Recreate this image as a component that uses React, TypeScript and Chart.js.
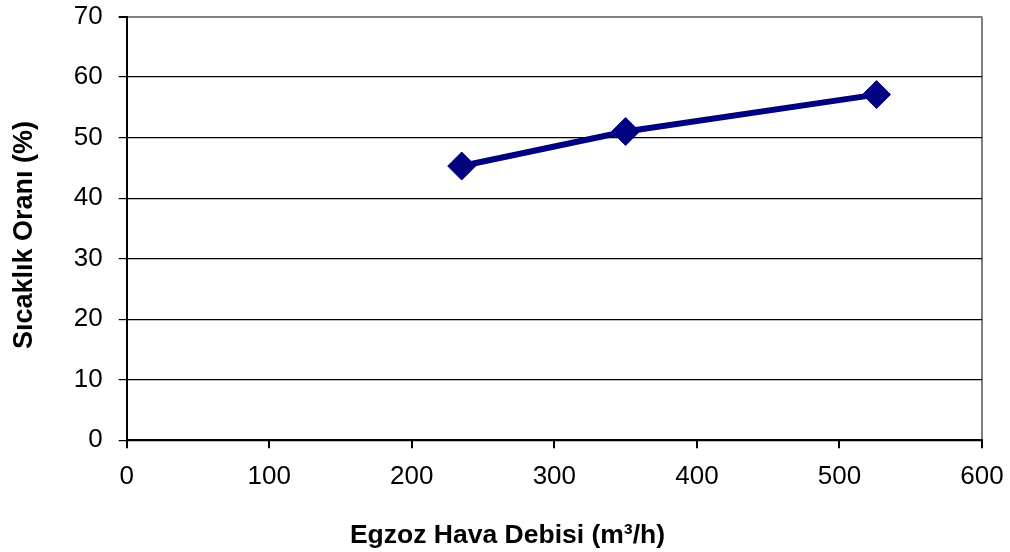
import React, { useEffect, useRef } from "react";
import { Chart, registerables } from "chart.js";

Chart.register(...registerables);

const airFlow = [235, 350, 526];
const ratio = [45.3, 51.0, 57.1];
const xTitle = "Egzoz Hava Debisi (m³/h)";
const yTitle = "Sıcaklık Oranı (%)";

const FONT = "Liberation Sans, Arial, sans-serif";

const titlePlugin = {
  id: "axisTitles",
  afterDraw(chart: any) {
    const c = chart.ctx;
    c.save();
    c.fillStyle = "#000";
    c.font = `bold 26.5px ${FONT}`;
    c.textAlign = "center";
    c.textBaseline = "alphabetic";
    c.fillText(xTitle, 507.5, 543);
    c.translate(32, 235);
    c.rotate(-Math.PI / 2);
    c.font = `bold 27px ${FONT}`;
    c.fillText(yTitle, 0, 0);
    c.restore();
  },
};

export default function App() {
  const ref = useRef<HTMLCanvasElement>(null);
  useEffect(() => {
    document.body.style.margin = "0";
    const ctx = ref.current!;
    const chart = new Chart(ctx, {
      type: "line",
      data: {
        datasets: [
          {
            data: airFlow.map((x, i) => ({ x, y: ratio[i] })),
            borderColor: "#000080",
            backgroundColor: "#000080",
            borderWidth: 6,
            pointStyle: "rectRot",
            pointRadius: 14,
            pointBorderWidth: 1,
            pointBorderColor: "#000080",
            pointBackgroundColor: "#000080",
            tension: 0,
          },
        ],
      },
      plugins: [titlePlugin],
      options: {
        animation: false,
        responsive: false,
        layout: { padding: { top: 16.5, right: 28, left: 0, bottom: 0 } },
        plugins: { legend: { display: false }, tooltip: { enabled: false } },
        scales: {
          x: {
            type: "linear",
            min: 0,
            max: 600,
            afterFit: (s: any) => {
              s.height = 552 - 16.5 - 423.8;
              s.paddingLeft = 0;
              s.paddingRight = 0;
            },
            ticks: {
              stepSize: 100,
              color: "#000",
              padding: 13,
              font: { family: FONT, size: 26 },
            },
            grid: {
              drawOnChartArea: true,
              color: (c: any) => (c.tick && c.tick.value === 600 ? "#808080" : "rgba(0,0,0,0)"),
              tickColor: "#000",
              tickLength: 8,
              lineWidth: 2,
            },
            border: { color: "#000", width: 2 },
          },
          y: {
            min: 0,
            max: 70,
            afterFit: (s: any) => {
              s.width = 126.7;
              s.paddingTop = 0;
              s.paddingBottom = 0;
            },
            ticks: {
              stepSize: 10,
              color: "#000",
              padding: 16,
              font: { family: FONT, size: 26 },
            },
            grid: {
              color: (c: any) => (c.tick && c.tick.value === 70 ? "#808080" : "#000"),
              tickColor: "#000",
              tickLength: 8,
              lineWidth: (c: any) => (c.tick && c.tick.value === 70 ? 2 : 1.2),
            },
            border: { color: "#000", width: 2 },
          },
        },
      },
    });
    return () => chart.destroy();
  }, []);
  return (
    <div style={{ width: 1010, height: 552, background: "#fff" }}>
      <canvas ref={ref} width={1010} height={552} />
    </div>
  );
}
